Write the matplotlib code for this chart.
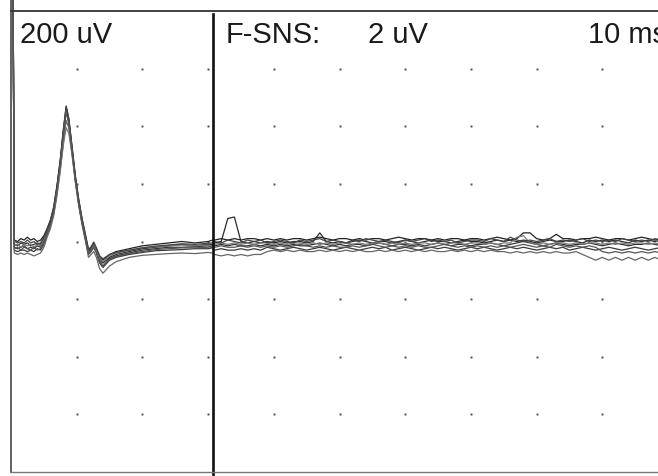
import matplotlib.pyplot as plt
import numpy as np

# sweep times in ms (left part shown at 200 uV/div, right part at 2 uV/div)
t_left = [0.25, 0.5, 1, 1.5, 2, 2.5, 3, 3.5, 4, 4.5,
          5, 5.5, 6, 6.5, 7, 7.5, 8, 8.4, 8.8, 9.3,
          9.8, 10.3, 10.8, 11.3, 11.8, 12.2, 12.6, 13, 13.5, 14,
          15, 16, 18, 20, 22, 24, 26, 28, 30, 30.7]
t_right = list(range(31, 101))

left_sens = 200   # uV/div
right_sens = 2    # uV/div

# left part, uV
left_a = [1200, 5, 0, 10, 5, 15, 5, 10, 0, 5,
          20, 45, 75, 120, 195, 285, 395, 470, 425, 325,
          225, 145, 80, 25, -30, -20, -5, -25, -55, -65,
          -45, -35, -25, -15, -10, -5, 0, -5, 0, 5]
left_b = [1200, -10, -15, -5, -10, -5, -15, -10, -5, -10,
          10, 35, 65, 110, 185, 275, 385, 460, 420, 320,
          220, 140, 75, 20, -35, -25, -10, -30, -65, -75,
          -55, -45, -35, -25, -20, -15, -10, -15, -10, -10]
left_c = [1200, -20, -25, -20, -15, -25, -20, -25, -15, -20,
          0, 30, 60, 105, 180, 270, 380, 455, 415, 315,
          215, 135, 70, 15, -40, -30, -15, -35, -70, -85,
          -60, -50, -40, -30, -25, -20, -20, -18, -15, -20]
left_d = [1200, -30, -35, -30, -30, -35, -30, -35, -25, -30,
          -10, 25, 55, 100, 175, 265, 375, 450, 410, 310,
          210, 130, 65, 10, -45, -35, -20, -40, -75, -90,
          -65, -55, -45, -38, -32, -30, -28, -25, -25, -22]
left_e = [1200, -40, -45, -40, -45, -40, -45, -50, -45, -40,
          -20, 15, 45, 90, 160, 245, 350, 420, 395, 300,
          205, 125, 60, 5, -55, -45, -35, -55, -95, -110,
          -85, -70, -55, -48, -45, -42, -40, -42, -38, -40]
left_f = [1200, -15, -10, -20, -10, -15, -10, -20, -10, -15,
          5, 30, 55, 95, 165, 250, 340, 395, 375, 300,
          215, 140, 75, 20, -40, -30, -12, -30, -60, -70,
          -50, -40, -30, -22, -18, -15, -12, -15, -12, -15]
left_g = [1200, 0, -5, 0, -5, 5, -5, 0, -10, -5,
          15, 40, 70, 118, 190, 280, 392, 468, 428, 328,
          228, 148, 82, 28, -28, -18, -2, -22, -50, -60,
          -45, -38, -30, -22, -16, -12, -8, -10, -6, -5]
left_h = [1200, -25, -20, -30, -20, -25, -30, -20, -30, -25,
          -5, 28, 58, 102, 178, 268, 378, 452, 412, 312,
          212, 132, 68, 12, -42, -32, -18, -38, -72, -88,
          -62, -52, -42, -35, -28, -25, -22, -22, -20, -18]

# right part, uV
right_a = [0.05, 0.1, 0.05, 0.1, 0.05, 0.1, 0.1, 0.05, 0.1, 0.05,
           0.1, 0.05, 0.1, 0.1, 0.05, 0.1, 0.15, 0.1, 0.05, 0.1,
           0.1, 0.05, 0.1, 0.05, 0.1, 0.1, 0.05, 0.1, 0.15, 0.1,
           0.05, 0.1, 0.1, 0.05, 0.1, 0.05, 0.1, 0.1, 0.05, 0.1,
           0.1, 0.05, 0.1, 0.15, 0.1, 0.05, 0.1, 0.3, 0.3, 0.1,
           0.05, 0.1, 0.25, 0.1, 0.1, 0.05, 0.1, 0.1, 0.15, 0.1,
           0.05, 0.1, 0.1, 0.05, 0.1, 0.15, 0.1, 0.05, 0.1, 0.1]
right_b = [-0.05, 0.0, 0.8, 0.85, 0.0, -0.05, 0.0, -0.05, 0.0, -0.05,
           0.0, -0.05, 0.0, 0.0, -0.05, 0.0, 0.3, 0.0, -0.05, 0.0,
           -0.05, 0.0, 0.05, 0.0, -0.05, 0.0, 0.0, -0.05, 0.0, 0.05,
           0.0, -0.05, 0.0, 0.05, 0.0, 0.0, -0.05, 0.0, 0.05, 0.0,
           0.0, -0.05, 0.0, 0.05, 0.0, 0.05, 0.0, 0.05, 0.0, -0.05,
           0.0, 0.05, 0.0, 0.0, 0.05, 0.0, -0.05, 0.05, 0.0, 0.05,
           0.0, 0.05, 0.0, -0.05, 0.05, 0.0, 0.05, 0.0, 0.05, 0.0]
right_c = [-0.15, -0.1, -0.15, -0.1, -0.15, -0.15, -0.1, -0.15, -0.1, -0.15,
           -0.1, -0.15, -0.1, -0.15, -0.15, -0.1, -0.05, -0.1, -0.15, -0.1,
           -0.15, -0.1, -0.1, -0.15, -0.1, -0.05, -0.1, -0.15, -0.1, -0.1,
           -0.15, -0.1, -0.15, -0.1, -0.05, -0.1, -0.15, -0.1, -0.1, -0.15,
           -0.1, -0.1, -0.05, -0.1, -0.15, -0.1, -0.05, 0.0, -0.05, -0.1,
           -0.15, -0.1, -0.05, -0.1, -0.15, -0.1, -0.1, -0.05, -0.1, -0.15,
           -0.1, -0.05, -0.1, -0.15, -0.1, -0.1, -0.05, -0.1, -0.15, -0.1]
right_d = [-0.3, -0.25, -0.3, -0.3, -0.25, -0.3, -0.25, -0.3, -0.2, -0.25,
           -0.3, -0.25, -0.2, -0.25, -0.3, -0.25, -0.2, -0.25, -0.3, -0.25,
           -0.2, -0.25, -0.3, -0.25, -0.2, -0.25, -0.2, -0.3, -0.25, -0.2,
           -0.25, -0.3, -0.25, -0.2, -0.25, -0.2, -0.25, -0.3, -0.25, -0.2,
           -0.25, -0.2, -0.25, -0.3, -0.25, -0.2, -0.25, -0.2, -0.25, -0.3,
           -0.25, -0.2, -0.25, -0.2, -0.3, -0.25, -0.2, -0.25, -0.3, -0.25,
           -0.2, -0.25, -0.3, -0.25, -0.2, -0.25, -0.3, -0.25, -0.2, -0.25]
right_e = [-0.45, -0.5, -0.45, -0.5, -0.45, -0.5, -0.45, -0.45, -0.35, -0.3,
           -0.35, -0.3, -0.35, -0.3, -0.35, -0.35, -0.3, -0.35, -0.3, -0.35,
           -0.3, -0.35, -0.3, -0.35, -0.35, -0.3, -0.35, -0.3, -0.35, -0.3,
           -0.35, -0.3, -0.35, -0.3, -0.35, -0.35, -0.3, -0.35, -0.3, -0.35,
           -0.3, -0.35, -0.3, -0.35, -0.35, -0.4, -0.35, -0.4, -0.35, -0.4,
           -0.35, -0.4, -0.35, -0.4, -0.4, -0.35, -0.45, -0.55, -0.65, -0.55,
           -0.65, -0.55, -0.65, -0.55, -0.65, -0.55, -0.65, -0.55, -0.65, -0.6]
right_f = [-0.1, -0.05, -0.1, -0.05, -0.1, -0.05, -0.1, -0.05, -0.05, -0.1,
           -0.05, -0.1, -0.05, -0.05, -0.1, -0.05, -0.1, -0.05, -0.1, -0.05,
           -0.05, -0.1, -0.05, -0.1, -0.05, -0.05, -0.1, -0.05, -0.1, -0.05,
           -0.1, -0.05, -0.05, -0.1, -0.05, -0.1, -0.05, -0.05, -0.1, -0.05,
           -0.05, -0.1, -0.05, -0.1, -0.05, -0.05, 0.15, 0.2, -0.05, -0.1,
           -0.05, -0.1, -0.05, -0.05, -0.1, -0.05, -0.1, -0.05, -0.05, -0.1,
           -0.05, -0.1, -0.05, -0.1, -0.05, -0.05, -0.1, -0.05, -0.1, -0.05]
right_g = [0.0, -0.05, 0.05, 0.0, -0.05, 0.05, 0.0, 0.05, -0.05, 0.0,
           0.05, 0.0, -0.05, 0.05, 0.0, 0.05, 0.1, 0.0, 0.05, 0.0,
           -0.05, 0.05, 0.0, 0.1, 0.05, 0.0, 0.05, 0.0, -0.05, 0.05,
           0.0, 0.05, 0.1, 0.0, 0.05, 0.0, 0.05, -0.05, 0.0, 0.05,
           0.05, 0.0, 0.1, 0.05, 0.0, 0.15, 0.05, 0.0, 0.05, 0.0,
           0.05, 0.1, 0.0, 0.05, 0.0, 0.05, 0.1, 0.0, 0.05, 0.0,
           0.05, 0.0, 0.1, 0.05, 0.0, 0.05, 0.0, 0.1, 0.05, 0.0]
right_h = [-0.2, -0.15, -0.2, -0.2, -0.15, -0.2, -0.15, -0.2, -0.15, -0.2,
           -0.15, -0.2, -0.15, -0.1, -0.15, -0.2, -0.15, -0.2, -0.15, -0.2,
           -0.2, -0.15, -0.2, -0.15, -0.1, -0.15, -0.2, -0.15, -0.2, -0.15,
           -0.2, -0.15, -0.2, -0.2, -0.15, -0.1, -0.15, -0.2, -0.15, -0.2,
           -0.15, -0.2, -0.15, -0.2, -0.15, -0.2, -0.15, -0.1, -0.15, -0.2,
           -0.15, -0.2, -0.1, -0.15, -0.2, -0.15, -0.2, -0.15, -0.2, -0.35,
           -0.4, -0.35, -0.4, -0.35, -0.4, -0.35, -0.4, -0.35, -0.4, -0.35]

traces = [(left_a, right_a), (left_b, right_b), (left_c, right_c), (left_d, right_d),
          (left_e, right_e), (left_f, right_f), (left_g, right_g), (left_h, right_h)]
trace_colors = ['#222222', '#2a2a2a', '#333333', '#3a3a3a',
                '#666666', '#777777', '#444444', '#555555']

label_gain_left = '200 uV'
label_mode = 'F-SNS:'
label_gain_right = '2 uV'
label_sweep = '10 ms'

W, H = 658, 476
fig = plt.figure(figsize=(W / 100, H / 100), dpi=100)
# screen: 10 x 8 divisions, runs past the right edge of the picture
ax = fig.add_axes([11 / W, 4 / H, 657 / W, 461 / H])
ax.set_xlim(0, 100)
ax.set_ylim(-4, 4)
ax.axis('off')

# grid dots
gx, gy = np.meshgrid(np.arange(10, 100, 10), np.arange(-3, 4, 1))
ax.plot(gx.ravel(), gy.ravel(), 's', ms=1.7, color='#555555', mec='none')

# traces
t_all = t_left + t_right
for (lv, rv), col in zip(traces, trace_colors):
    y = [v / left_sens for v in lv] + [v / right_sens for v in rv]
    ax.plot(t_all, y, color=col, lw=0.9, clip_on=False)

# frame
fig.add_artist(plt.Line2D([11 / W, 11 / W], [1, 4 / H], color='#555555', lw=1.3))
fig.add_artist(plt.Line2D([11 / W, 1], [1 - 11 / H, 1 - 11 / H], color='#333333', lw=1.3))
fig.add_artist(plt.Line2D([11 / W, 1], [4 / H, 4 / H], color='#777777', lw=1.0))
ax.axvline(30.75, ymin=-0.01, ymax=0.9935, color='#111111', lw=1.9, clip_on=False)

# labels
font = dict(family=['Liberation Sans'], fontsize=21, color='#1a1a1a', va='baseline')
ax.text(1.37, 3.45, label_gain_left, **font)
ax.text(32.6, 3.45, label_mode, **font)
ax.text(54.3, 3.45, label_gain_right, **font)
ax.text(87.8, 3.45, label_sweep, **font)

fig.savefig('out.png', dpi=100)
